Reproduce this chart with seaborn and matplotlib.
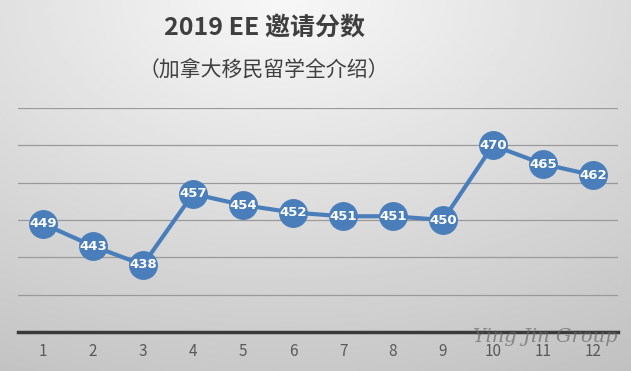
import numpy as np
import pandas as pd
import seaborn as sns
import matplotlib.pyplot as plt

# 数据
months = [1, 2, 3, 4, 5, 6, 7, 8, 9, 10, 11, 12]
scores = [449, 443, 438, 457, 454, 452, 451, 451, 450, 470, 465, 462]
title = "2019 EE 邀请分数"
subtitle = "（加拿大移民留学全介绍）"
watermark = "Ying Jin Group"

df = pd.DataFrame({"month": months, "score": scores})

sns.set_theme(style="white")
plt.rcParams['font.family'] = ['Noto Sans CJK SC', 'DejaVu Sans']

fig = plt.figure(figsize=(6.31, 3.71), dpi=100)

# 背景渐变
bg = fig.add_axes([0, 0, 1, 1], zorder=0)
yy, xx = np.mgrid[0:1:200j, 0:1:300j]
r = np.sqrt(((xx - 0.45) * 1.1) ** 2 + (yy * 1.0) ** 2)
shade = 0.97 - 0.22 * np.clip(r, 0, 1.2) / 1.2
bg.imshow(shade, cmap="gray", vmin=0, vmax=1, aspect="auto", extent=[0, 1, 1, 0])
bg.axis("off")

ax = fig.add_axes([18 / 631, 39 / 371, 600 / 631, 224 / 371], zorder=1)
ax.patch.set_alpha(0)

sns.lineplot(data=df, x="month", y="score", ax=ax, color="#4a7ebb",
             linewidth=3, marker="o", markersize=20,
             markerfacecolor="#4a7ebb", markeredgecolor="#4a7ebb", zorder=3)

for m, s in zip(months, scores):
    ax.text(m, s, str(s), color="white", fontsize=9.5, fontweight="bold",
            ha="center", va="center", family="DejaVu Sans", zorder=4)

ax.set_xlim(0.5, 12.5)
ax.set_ylim(420, 480)
ax.set_yticks([430, 440, 450, 460, 470, 480])
ax.set_yticklabels([])
ax.tick_params(axis="y", length=0)
ax.grid(axis="y", color="#9a9a9a", linewidth=0.9)
ax.set_xticks(months)
ax.set_xticklabels([str(m) for m in months], color="#595959", fontsize=11)
ax.tick_params(axis="x", length=0, pad=8)
ax.set_xlabel("")
ax.set_ylabel("")
for side in ["top", "left", "right"]:
    ax.spines[side].set_visible(False)
ax.spines["bottom"].set_color("#3a3a3a")
ax.spines["bottom"].set_linewidth(2.5)

fig.text(264 / 631, 1 - 28 / 371, title, ha="center", va="center",
         fontsize=18, fontweight="bold", color="#3f3f3f")
fig.text(264 / 631, 1 - 70 / 371, subtitle, ha="center", va="center",
         fontsize=15, color="#3f3f3f")
fig.text(545 / 631, 1 - 337 / 371, watermark, ha="center", va="center",
         fontsize=14, style="italic", family="DejaVu Serif", color="#6a6a6a", alpha=0.7)

fig.savefig("out.png", dpi=100)
